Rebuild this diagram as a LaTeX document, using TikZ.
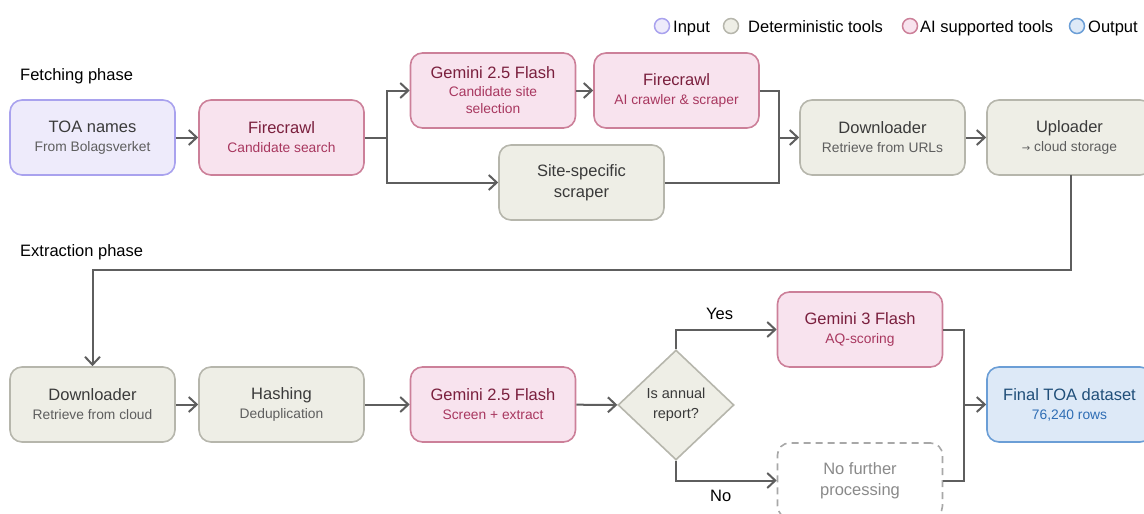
\documentclass[tikz,border=0pt]{standalone}
\usepackage{fontspec}
\setmainfont{Liberation Sans}
\usetikzlibrary{arrows.meta,shapes.geometric}
\definecolor{inFill}{HTML}{EEEBFB}
\definecolor{inDraw}{HTML}{A9A2EE}
\definecolor{detFill}{HTML}{EEEEE6}
\definecolor{detDraw}{HTML}{B6B6AC}
\definecolor{aiFill}{HTML}{F8E3EE}
\definecolor{aiDraw}{HTML}{CC8099}
\definecolor{aiText}{HTML}{7A1F3D}
\definecolor{aiSub}{HTML}{A8375F}
\definecolor{outFill}{HTML}{DDE9F7}
\definecolor{outDraw}{HTML}{6B9ED6}
\definecolor{outText}{HTML}{1F4E79}
\definecolor{outSub}{HTML}{2E6DB4}
\definecolor{lineC}{HTML}{5E5E5E}
\definecolor{mainT}{HTML}{3A3A3A}
\definecolor{subT}{HTML}{5E5E5E}
\definecolor{nfT}{HTML}{8A8A8A}
\definecolor{nfDraw}{HTML}{A8A8A8}
\newfontfamily\symfont{DejaVu Sans}
\newcommand{\subl}[1]{{\fontsize{13.8}{15}\selectfont #1}}
\tikzset{
  box/.style={rounded corners=12pt, minimum width=165pt, minimum height=75pt, line width=1.6pt, align=center, inner sep=2pt, font=\fontsize{16.5}{20}\selectfont},
  inbox/.style={box, fill=inFill, draw=inDraw},
  detbox/.style={box, fill=detFill, draw=detDraw},
  aibox/.style={box, fill=aiFill, draw=aiDraw},
  outbox/.style={box, fill=outFill, draw=outDraw},
  nfbox/.style={box, fill=white, draw=nfDraw, dash pattern=on 7pt off 5pt},
  conn/.style={draw=lineC, line width=2pt},
  arr/.style={conn, -{Straight Barb[length=8pt, width=15pt, line width=2pt]}},
  lg/.style={circle, minimum size=15pt, inner sep=0pt, line width=1.5pt},
  lgt/.style={anchor=base west, font=\fontsize{16.5}{19}\selectfont, text=black, inner sep=0pt},
}
\begin{document}
\begin{tikzpicture}[x=1pt,y=-1pt]
\useasboundingbox (0,0) rectangle (1144,514);
% legend
\node[lg, fill=inFill, draw=inDraw] (l1) at (662,26) {};
\node[lgt] (l1t) at (673,32) {Input};
\node[lg, fill=detFill, draw=detDraw] (l2) at (731,26) {};
\node[lgt] (l2t) at (748,32) {Deterministic tools};
\node[lg, fill=aiFill, draw=aiDraw] (l3) at (910,26) {};
\node[lgt] (l3t) at (920,32) {AI supported tools};
\node[lg, fill=outFill, draw=outDraw] (l4) at (1077,26) {};
\node[lgt] (l4t) at (1088,32) {Output};
% phase labels
\node[lgt] (ph1) at (20,80) {Fetching phase};
\node[lgt] (ph2) at (20,256) {Extraction phase};
% top row
\node[inbox] (toa) at (92.5,137.5) {\textcolor{mainT}{TOA names}\\[-1pt]\textcolor{subT}{\subl{From Bolagsverket}}};
\node[aibox] (fc1) at (281.5,137.5) {\textcolor{aiText}{Firecrawl}\\[-1pt]\textcolor{aiSub}{\subl{Candidate search}}};
\node[aibox] (gem1) at (493,90.5) {\textcolor{aiText}{Gemini 2.5 Flash}\\[-2pt]\textcolor{aiSub}{\subl{Candidate site}}\\[-3pt]\textcolor{aiSub}{\subl{selection}}};
\node[aibox] (fc2) at (676.5,90.5) {\textcolor{aiText}{Firecrawl}\\[-1pt]\textcolor{aiSub}{\subl{AI crawler \& scraper}}};
\node[detbox] (site) at (581.5,182.5) {\textcolor{mainT}{Site-specific}\\[1pt]\textcolor{mainT}{scraper}};
\node[detbox] (dl1) at (882.5,137.5) {\textcolor{mainT}{Downloader}\\[-1pt]\textcolor{subT}{\subl{Retrieve from URLs}}};
\node[detbox] (up) at (1069.5,137.5) {\textcolor{mainT}{Uploader}\\[-1pt]\textcolor{subT}{\subl{{\symfont\fontsize{10}{15}\selectfont →} cloud storage}}};
% bottom row
\node[detbox] (dl2) at (92.5,404.5) {\textcolor{mainT}{Downloader}\\[-1pt]\textcolor{subT}{\subl{Retrieve from cloud}}};
\node[detbox] (hash) at (281.5,404.5) {\textcolor{mainT}{Hashing}\\[-1pt]\textcolor{subT}{\subl{Deduplication}}};
\node[aibox] (gem2) at (493,404.5) {\textcolor{aiText}{Gemini 2.5 Flash}\\[-1pt]\textcolor{aiSub}{\subl{Screen + extract}}};
\node[diamond, fill=detFill, draw=detDraw, line width=1.6pt, minimum width=116pt, minimum height=110pt, inner sep=0pt, align=center, text=mainT, font=\fontsize{14.5}{20}\selectfont] (dia) at (676,405) {Is annual\\report?};
\node[aibox] (gem3) at (860,329.5) {\textcolor{aiText}{Gemini 3 Flash}\\[-1pt]\textcolor{aiSub}{\subl{AQ-scoring}}};
\node[nfbox] (nf) at (860,480.5) {\textcolor{nfT}{No further}\\[1pt]\textcolor{nfT}{processing}};
\node[outbox] (fin) at (1069.5,404.5) {\textcolor{outText}{Final TOA dataset}\\[-1pt]\textcolor{outSub}{\subl{76,240 rows}}};
% coordinates
\coordinate (j1) at (387,137.5);
\coordinate (j2) at (779,137.5);
\coordinate (j3) at (964,404.5);
\coordinate (c1) at (1071,270);
\coordinate (u1) at (1071,175);
% connectors top
\draw[arr] (toa) -- (fc1);
\draw[conn] (fc1) -- (j1);
\draw[arr] (j1) |- (gem1);
\draw[arr] (j1) |- (site);
\draw[arr] (gem1) -- (fc2);
\draw[conn] (fc2.east) -| (j2);
\draw[conn] (site.east) -| (j2);
\draw[arr] (j2) -- (dl1);
\draw[arr] (dl1) -- (up);
\draw[arr] (u1) -- (c1) -| (dl2.north);
% connectors bottom
\draw[arr] (dl2) -- (hash);
\draw[arr] (hash) -- (gem2);
\draw[arr] (gem2) -- (dia);
\draw[arr] (dia.north) |- (gem3);
\draw[arr] (dia.south) |- (nf);
\draw[conn] (gem3.east) -| (j3);
\draw[conn] (nf.east) -| (j3);
\draw[arr] (j3) -- (fin);
\node[lgt] (yes) at (706,319) {Yes};
\node[lgt] (no) at (710,501) {No};
\end{tikzpicture}
\end{document}
